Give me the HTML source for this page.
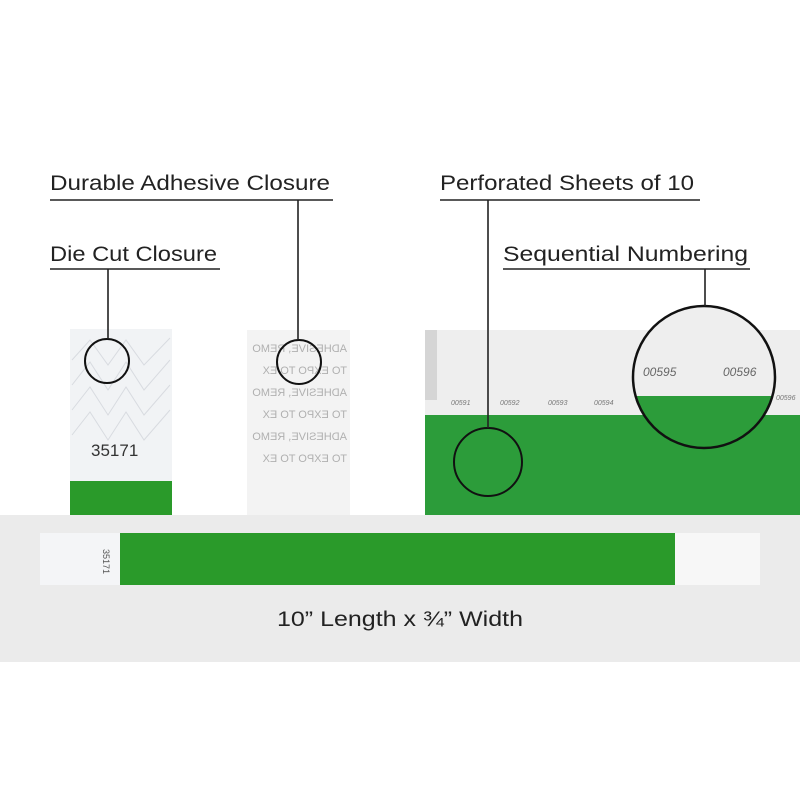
<!DOCTYPE html>
<html><head><meta charset="utf-8"><style>
html,body{margin:0;padding:0;background:#fff;}
svg{display:block}
</style></head><body>
<svg width="800" height="800" viewBox="0 0 800 800" xmlns="http://www.w3.org/2000/svg" font-family="Liberation Sans, sans-serif">
<rect width="800" height="800" fill="#fff"/>
<rect x="0" y="515" width="800" height="147" fill="#ebebeb"/>
<rect x="70" y="329" width="102" height="152" fill="#f1f3f5"/>
<g stroke="#d8dbe0" fill="none" stroke-width="1">
<path d="M72 360 L90 340 L108 365 L126 340 L144 365 L170 338"/>
<path d="M72 385 L90 362 L108 390 L126 362 L144 390 L170 360"/>
<path d="M72 410 L90 387 L108 415 L126 387 L144 415 L170 385"/>
<path d="M72 435 L90 412 L108 440 L126 412 L144 440 L170 410"/>
</g>
<text x="91" y="456" font-size="17" fill="#333">35171</text>
<rect x="70" y="481" width="102" height="34" fill="#2a9a2a"/>
<rect x="247" y="330" width="103" height="185" fill="#f3f3f3"/>
<g font-size="11" fill="#b0b0b0" transform="translate(597 0) scale(-1 1)">
<text x="250" y="352">ADHESIVE, REMO</text>
<text x="250" y="374">TO EXPO    TO EX</text>
<text x="250" y="396">ADHESIVE, REMO</text>
<text x="250" y="418">TO EXPO    TO EX</text>
<text x="250" y="440">ADHESIVE, REMO</text>
<text x="250" y="462">TO EXPO    TO EX</text>
</g>
<rect x="425" y="330" width="375" height="185" fill="#2c9c3a"/>
<rect x="425" y="330" width="375" height="85" fill="#eeeeee"/>
<rect x="425" y="330" width="12" height="70" fill="#d5d5d5"/>
<g font-size="7" fill="#777" font-style="italic">
<text x="451" y="405">00591</text><text x="500" y="405">00592</text><text x="548" y="405">00593</text><text x="594" y="405">00594</text><text x="776" y="400">00596</text>
</g>
<clipPath id="c"><circle cx="704" cy="377" r="71"/></clipPath>
<g clip-path="url(#c)">
<rect x="630" y="300" width="150" height="150" fill="#eeeeee"/>
<rect x="630" y="396" width="150" height="60" fill="#2c9c3a"/>
<text x="643" y="376" font-size="12" font-style="italic" fill="#666">00595</text>
<text x="723" y="376" font-size="12" font-style="italic" fill="#666">00596</text>
</g>
<circle cx="704" cy="377" r="71" fill="none" stroke="#111" stroke-width="2.5"/>
<circle cx="107" cy="361" r="22" fill="none" stroke="#111" stroke-width="2"/>
<circle cx="299" cy="362" r="22" fill="none" stroke="#111" stroke-width="2"/>
<circle cx="488" cy="462" r="34" fill="none" stroke="#111" stroke-width="2"/>
<g stroke="#222" stroke-width="1.6">
<line x1="50" y1="200" x2="333" y2="200"/>
<line x1="298" y1="200" x2="298" y2="340"/>
<line x1="50" y1="269" x2="220" y2="269"/>
<line x1="108" y1="269" x2="108" y2="339"/>
<line x1="440" y1="200" x2="700" y2="200"/>
<line x1="488" y1="200" x2="488" y2="428"/>
<line x1="503" y1="269" x2="750" y2="269"/>
<line x1="705" y1="269" x2="705" y2="306"/>
</g>
<g font-size="21" fill="#222">
<text x="50" y="190" textLength="280" lengthAdjust="spacingAndGlyphs">Durable Adhesive Closure</text>
<text x="50" y="261" textLength="167" lengthAdjust="spacingAndGlyphs">Die Cut Closure</text>
<text x="440" y="190" textLength="254" lengthAdjust="spacingAndGlyphs">Perforated Sheets of 10</text>
<text x="503" y="261" textLength="245" lengthAdjust="spacingAndGlyphs">Sequential Numbering</text>
</g>
<rect x="40" y="533" width="80" height="52" fill="#f4f5f7"/>
<text x="0" y="0" font-size="9" fill="#555" transform="translate(103 549) rotate(90)">35171</text>
<rect x="120" y="533" width="555" height="52" fill="#2a9a2a"/>
<rect x="675" y="533" width="85" height="52" fill="#f7f7f7"/>
<text x="400" y="626" font-size="21" fill="#222" text-anchor="middle" textLength="246" lengthAdjust="spacingAndGlyphs">10” Length x ¾” Width</text>
</svg>
</body></html>
